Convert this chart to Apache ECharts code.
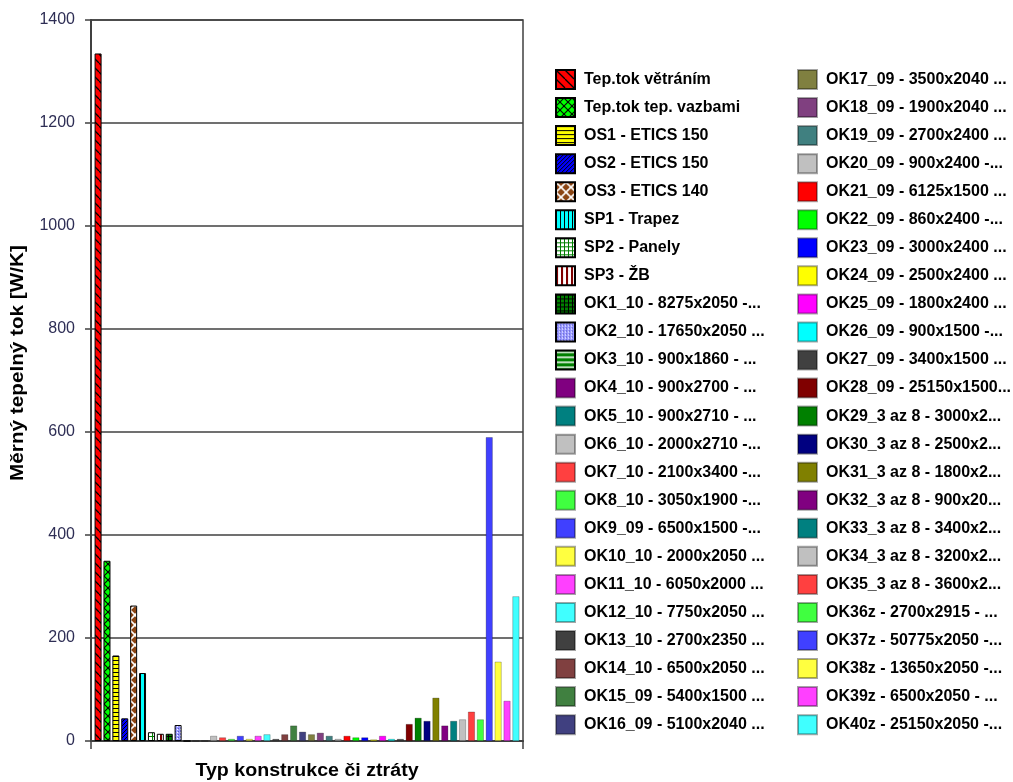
<!DOCTYPE html>
<html>
<head>
<meta charset="utf-8">
<script src="https://cdn.jsdelivr.net/npm/echarts@6/dist/echarts.min.js"></script>
<style>
  html, body { margin: 0; padding: 0; background: #ffffff; }
  #chart { width: 1013px; height: 782px; }
</style>
</head>
<body>
<div id="chart"></div>
<script>
// Heat-loss breakdown by construction type / loss kind
const categories = [''];

const seriesNames = [
  'Tep.tok větráním', 'Tep.tok tep. vazbami', 'OS1 - ETICS 150', 'OS2 - ETICS 150',
  'OS3 - ETICS 140', 'SP1 - Trapez', 'SP2 - Panely', 'SP3 - ŽB',
  'OK1_10 - 8275x2050 -...', 'OK2_10 - 17650x2050 ...', 'OK3_10 - 900x1860 - ...', 'OK4_10 - 900x2700 - ...',
  'OK5_10 - 900x2710 - ...', 'OK6_10 - 2000x2710 -...', 'OK7_10 - 2100x3400 -...', 'OK8_10 - 3050x1900 -...',
  'OK9_09 - 6500x1500 -...', 'OK10_10 - 2000x2050 ...', 'OK11_10 - 6050x2000 ...', 'OK12_10 - 7750x2050 ...',
  'OK13_10 - 2700x2350 ...', 'OK14_10 - 6500x2050 ...', 'OK15_09 - 5400x1500 ...', 'OK16_09 - 5100x2040 ...',
  'OK17_09 - 3500x2040 ...', 'OK18_09 - 1900x2040 ...', 'OK19_09 - 2700x2400 ...', 'OK20_09 - 900x2400 -...',
  'OK21_09 - 6125x1500 ...', 'OK22_09 - 860x2400 -...', 'OK23_09 - 3000x2400 ...', 'OK24_09 - 2500x2400 ...',
  'OK25_09 - 1800x2400 ...', 'OK26_09 - 900x1500 -...', 'OK27_09 - 3400x1500 ...', 'OK28_09 - 25150x1500...',
  'OK29_3 az 8 - 3000x2...', 'OK30_3 az 8 - 2500x2...', 'OK31_3 az 8 - 1800x2...', 'OK32_3 az 8 - 900x20...',
  'OK33_3 az 8 - 3400x2...', 'OK34_3 az 8 - 3200x2...', 'OK35_3 az 8 - 3600x2...', 'OK36z - 2700x2915 - ...',
  'OK37z - 50775x2050 -...', 'OK38z - 13650x2050 -...', 'OK39z - 6500x2050 - ...', 'OK40z - 25150x2050 -...'
];

// Specific heat flow [W/K] for each item
const seriesValues = [
  1335, 350, 166, 44, 263, 132, 17, 14,
  14, 31, 0, 0, 0, 10, 7, 4,
  10, 4, 10, 13, 4, 13, 30, 18,
  13, 16, 10, 4, 10, 7, 7, 3,
  10, 4, 4, 33, 45, 39, 84, 30,
  39, 42, 57, 42, 590, 154, 78, 281
];

const yMin = 0, yMax = 1400, yStep = 200;

const xTitle = 'Typ konstrukce či ztráty';
const yTitle = 'Měrný tepelný tok [W/K]';

// Fill of each series: hatch pattern descriptor or plain colour
const seriesFills = [
  { kind: 'bdiag', bg: '#ff0000', fg: '#000000', size: 9, lw: 1.3 },
  { kind: 'xdiag', bg: '#00ff00', fg: '#000000', size: 8, lw: 1.1 },
  { kind: 'hlines', bg: '#ffff00', fg: '#000000', size: 4 },
  { kind: 'fdiag', bg: '#0000ff', fg: '#000000', size: 4, lw: 1 },
  { kind: 'xdiag', bg: '#8b4513', fg: '#ffffff', size: 10, lw: 1.6 },
  { kind: 'vlines', bg: '#00ffff', fg: '#000000', size: 4 },
  { kind: 'grid', bg: '#ffffff', fg: '#008000', size: 4 },
  { kind: 'vbars', bg: '#ffffff', fg: '#800000', size: 5 },
  { kind: 'grid', bg: '#008000', fg: '#000000', size: 4 },
  { kind: 'dots', bg: '#9999ff', fg: '#ffffff', size: 3 },
  { kind: 'hbars', bg: '#008000', fg: '#ffffff', size: 5 },
  '#800080', '#008080', '#c0c0c0', '#ff4040', '#40ff40', '#4040ff', '#ffff40',
  '#ff40ff', '#40ffff', '#404040', '#804040', '#408040', '#404080', '#808040',
  '#804080', '#408080', '#c0c0c0', '#ff0000', '#00ff00', '#0000ff', '#ffff00',
  '#ff00ff', '#00ffff', '#404040', '#800000', '#008000', '#000080', '#808000',
  '#800080', '#008080', '#c0c0c0', '#ff4040', '#40ff40', '#4040ff', '#ffff40',
  '#ff40ff', '#40ffff'
];

function makePattern(p) {
  const s = p.size;
  const c = document.createElement('canvas');
  c.width = s; c.height = s;
  const g = c.getContext('2d');
  g.fillStyle = p.bg;
  g.fillRect(0, 0, s, s);
  g.fillStyle = p.fg;
  g.strokeStyle = p.fg;
  g.lineWidth = p.lw || 1;
  const diag = (dir) => {
    for (let k = -s; k <= s; k += s) {
      g.beginPath();
      if (dir > 0) { g.moveTo(k, 0); g.lineTo(k + s, s); }
      else { g.moveTo(k, s); g.lineTo(k + s, 0); }
      g.stroke();
    }
  };
  switch (p.kind) {
    case 'bdiag': diag(1); break;
    case 'fdiag': diag(-1); break;
    case 'xdiag': diag(1); diag(-1); break;
    case 'hlines': g.fillRect(0, 0, s, 1); break;
    case 'vlines': g.fillRect(0, 0, 1, s); break;
    case 'vbars': g.fillRect(0, 0, 2, s); break;
    case 'hbars': g.fillRect(0, 1, s, 1.5); break;
    case 'grid': g.fillRect(0, 0, s, 1); g.fillRect(0, 0, 1, s); break;
    case 'dots':
      g.fillRect(0, 0, 1, 1);
      g.fillStyle = '#5555bb';
      g.fillRect(1, 2, 1, 1);
      break;
  }
  return { image: c, repeat: 'repeat' };
}

const FONT = '"Liberation Sans", Arial, sans-serif';

const series = seriesNames.map((name, i) => {
  const f = seriesFills[i];
  const patterned = typeof f !== 'string';
  return {
    type: 'bar',
    name: name,
    data: [seriesValues[i]],
    barWidth: 7,
    barGap: '27%',
    itemStyle: {
      color: patterned ? makePattern(f) : f,
      borderColor: patterned ? '#000000' : 'rgba(0,0,0,0.35)',
      borderWidth: patterned ? 1 : 0.7
    },
    emphasis: { disabled: true }
  };
});

const legendText = {
  fontFamily: FONT, fontSize: 16, fontWeight: 'bold', color: '#000000',
  padding: [0, 0, 0, 4], lineHeight: 19
};

const legendBase = {
  orient: 'vertical', top: 64, bottom: 0,
  itemWidth: 19, itemHeight: 19, itemGap: 7.05, icon: 'rect',
  textStyle: legendText, selectedMode: false
};

const chart = echarts.init(document.getElementById('chart'), null, { renderer: 'canvas' });
chart.setOption({
  animation: false,
  backgroundColor: '#ffffff',
  grid: {
    left: 91, right: 490, top: 20, bottom: 41,
    show: true, borderColor: '#404040', borderWidth: 1.5, backgroundColor: 'transparent'
  },
  legend: [
    Object.assign({}, legendBase, { data: seriesNames.slice(0, 24), left: 550 }),
    Object.assign({}, legendBase, { data: seriesNames.slice(24), left: 792 })
  ],
  xAxis: {
    type: 'category',
    data: categories,
    axisLine: { lineStyle: { color: '#404040', width: 2 } },
    axisTick: { show: true, length: 8, lineStyle: { color: '#404040', width: 1.5 } },
    axisLabel: { show: false }
  },
  yAxis: {
    type: 'value',
    min: yMin, max: yMax, interval: yStep,
    axisLine: { show: true, lineStyle: { color: '#404040', width: 2 } },
    axisTick: { show: true, length: 6, lineStyle: { color: '#404040', width: 1.5 } },
    axisLabel: { fontFamily: FONT, fontSize: 16, color: '#2e2e55', margin: 16, formatter: (v) => String(v) },
    splitLine: { lineStyle: { color: '#404040', width: 1.5 } }
  },
  graphic: [
    {
      type: 'text',
      x: 18, y: 363,
      rotation: Math.PI / 2,
      scaleX: 1.15,
      style: {
        text: yTitle,
        font: 'bold 18px "Liberation Sans", Arial, sans-serif',
        fill: '#000000',
        align: 'center',
        verticalAlign: 'middle'
      }
    },
    {
      type: 'text',
      x: 307, y: 771,
      scaleX: 1.09,
      style: {
        text: xTitle,
        font: 'bold 18px "Liberation Sans", Arial, sans-serif',
        fill: '#000000',
        align: 'center',
        verticalAlign: 'middle'
      }
    }
  ],
  series: series
});
</script>
</body>
</html>
